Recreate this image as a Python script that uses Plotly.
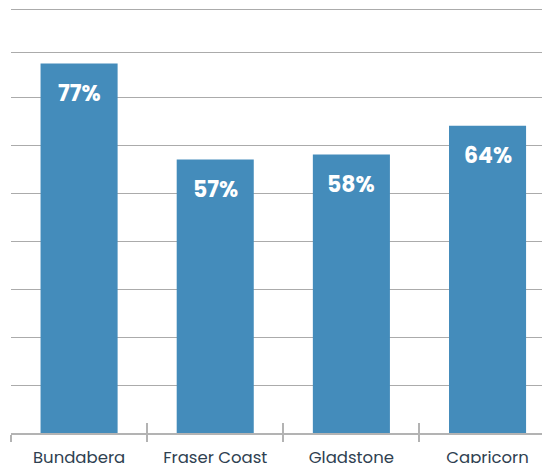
import plotly.graph_objects as go

categories = ["Bundaberg", "Fraser Coast", "Gladstone", "Capricorn"]
values = [77, 57, 58, 64]
value_labels = ["77%", "57%", "58%", "64%"]
grid_values = [0, 10, 20, 30, 40, 50, 60, 70, 79.2, 88.3]

BAR = "#448cbb"
GRID = "#ababab"
AXIS = "#b3b3b3"
LABEL = "#2f4151"
FONT = "Poppins, Open Sans, sans-serif"

fig = go.Figure()
fig.add_trace(go.Bar(
    x=categories, y=values, marker=dict(color=BAR, line=dict(width=0)),
    hoverinfo="skip", showlegend=False,
))

for c, v, t in zip(categories, values, value_labels):
    fig.add_annotation(
        x=c, y=v, text=t, showarrow=False, yanchor="middle", yshift=-30,
        font=dict(family=FONT, size=22, color="white", weight="bold"),
    )

boundaries = [i - 0.5 for i in range(len(categories))]
x_range = [-0.5, 3.4]

fig.update_layout(
    width=542, height=463,
    margin=dict(l=11, r=0, t=1, b=30, autoexpand=False),
    paper_bgcolor="white", plot_bgcolor="white",
    bargap=0.434,
    font=dict(family=FONT),
    xaxis=dict(
        type="category", range=x_range, automargin=False,
        showgrid=False, showline=True, linecolor=AXIS, linewidth=1.5,
        ticks="outside", tickson="boundaries", ticklen=7, tickcolor=AXIS, tickwidth=1.5,
        tickfont=dict(family=FONT, size=16.5, color=LABEL),
        ticklabelstandoff=8,
    ),
    xaxis2=dict(
        overlaying="x", anchor="y", range=x_range, automargin=False,
        tickvals=boundaries, ticks="inside", ticklen=10, tickcolor=AXIS, tickwidth=1.5,
        showticklabels=False, showgrid=False, showline=False, zeroline=False,
    ),
    yaxis=dict(
        range=[0, 90], tickvals=grid_values, showticklabels=False, automargin=False,
        showgrid=True, gridcolor=GRID, gridwidth=1.2, zeroline=False, ticks="",
    ),
)

# invisible trace to activate xaxis2
fig.add_trace(go.Scatter(x=[x_range[0]], y=[0], xaxis="x2", yaxis="y", mode="markers",
                         marker=dict(opacity=0), hoverinfo="skip", showlegend=False))

fig.write_html(
    "out.html",
    config={"displayModeBar": False},
    post_script="document.body.style.margin='0';document.body.style.overflow='hidden';",
)
